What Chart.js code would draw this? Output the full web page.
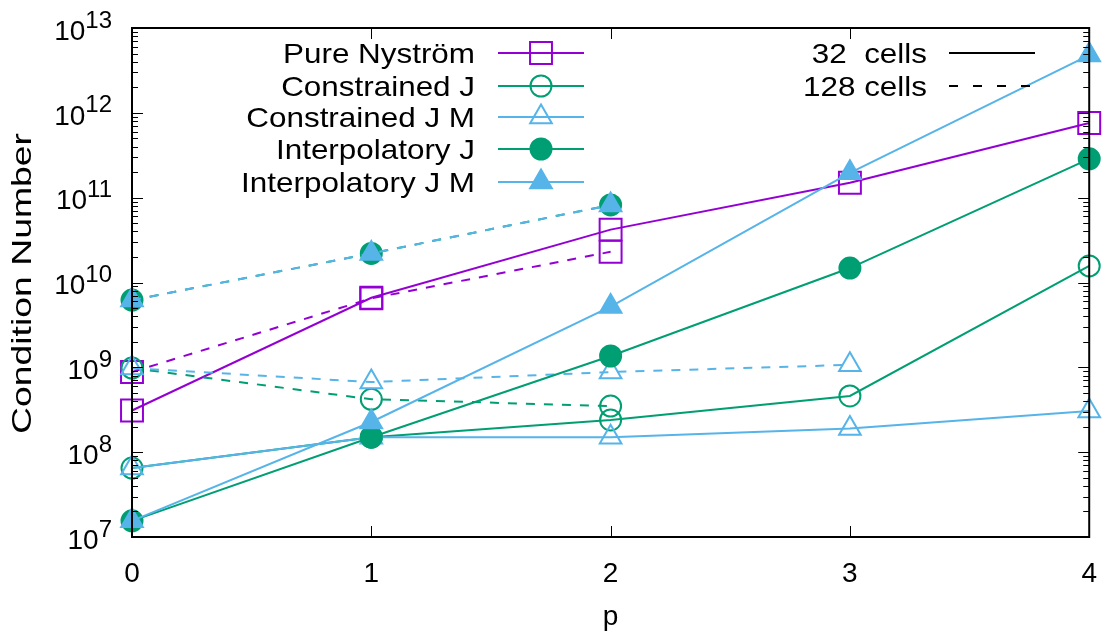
<!DOCTYPE html>
<html>
<head>
<meta charset="utf-8">
<script src="https://cdn.jsdelivr.net/npm/chart.js@4/dist/chart.umd.min.js"></script>
<style>
  html, body { margin: 0; padding: 0; background: #fff; overflow: hidden; }
  canvas { display: block; }
</style>
</head>
<body>
<canvas id="c" width="1109" height="637"></canvas>
<script>
// p values on the x axis
const pValues = [0, 1, 2, 3, 4];
const xTickLabels = ['0', '1', '2', '3', '4'];
const yDecades = [7, 8, 9, 10, 11, 12, 13];

// condition numbers, 32 cells (solid)
const pure32 = [3.1e8, 6.6e9, 4.2e10, 1.5e11, 7.6e11];
const conJ32 = [6.5e7, 1.5e8, 2.4e8, 4.6e8, 1.57e10];
const conJM32 = [6.5e7, 1.5e8, 1.5e8, 1.9e8, 3.06e8];
const intJ32 = [1.55e7, 1.5e8, 1.36e9, 1.48e10, 2.87e11];
const intJM32 = [1.55e7, 2.27e8, 5.2e9, 1.96e11, 4.8e12];

// condition numbers, 128 cells (dashed)
const pure128 = [8.8e8, 6.5e9, 2.3e10];
const conJ128 = [9.8e8, 4.2e8, 3.5e8];
const conJM128 = [9.8e8, 6.7e8, 8.8e8, 1.07e9];
const intJ128 = [6.2e9, 2.2e10, 8.2e10];
const intJM128 = [6.2e9, 2.2e10, 8.2e10];

const seriesNames = ['Pure Nyström', 'Constrained J', 'Constrained J M', 'Interpolatory J', 'Interpolatory J M'];
const cellLabels = ['32  cells', '128 cells'];

const PURPLE = '#9400d3';
const GREEN = '#009e73';
const BLUE = '#56b4e9';
const FONT = '"Liberation Sans", Arial, sans-serif';
const DASH = [9, 9];

const styles = [
  {color: PURPLE, shape: 'rect', r: 15.5, fill: false},
  {color: GREEN, shape: 'circle', r: 10.5, fill: false},
  {color: BLUE, shape: 'triangle', r: 12.5, fill: false},
  {color: GREEN, shape: 'circle', r: 10.5, fill: true},
  {color: BLUE, shape: 'triangle', r: 12.5, fill: true}
];

function pts(vals){
  return vals.map((v, i) => ({x: pValues[i], y: v}));
}

function makeSet(idx, vals, dashed){
  const s = styles[idx];
  return {
    label: seriesNames[idx] + (dashed ? ' (128)' : ''),
    data: pts(vals),
    borderColor: s.color,
    backgroundColor: s.fill ? s.color : 'rgba(0,0,0,0)',
    pointBorderColor: s.color,
    pointBackgroundColor: s.fill ? s.color : 'rgba(0,0,0,0)',
    pointStyle: s.shape,
    pointRadius: s.r,
    pointHoverRadius: s.r,
    pointBorderWidth: 2,
    borderWidth: 2,
    borderDash: dashed ? DASH : [],
    tension: 0,
    fill: false,
    clip: false,
    order: 20 - (idx * 2 + (dashed ? 1 : 0))
  };
}

const datasets = [
  makeSet(0, pure32, false), makeSet(0, pure128, true),
  makeSet(1, conJ32, false), makeSet(1, conJ128, true),
  makeSet(2, conJM32, false), makeSet(2, conJM128, true),
  makeSet(3, intJ32, false), makeSet(3, intJ128, true),
  makeSet(4, intJM32, false), makeSet(4, intJM128, true)
];

// text squeezed/stretched along its run to the width seen in the picture
function stretchText(ctx, txt, x, y, sx){
  ctx.save();
  ctx.translate(x, y);
  ctx.scale(sx, 1);
  ctx.fillText(txt, 0, 0);
  ctx.restore();
}

// frame, inward ticks, y labels with superscripts, y title and the two keys
const decorPlugin = {
  id: 'decor',
  afterDraw(chart){
    const ctx = chart.ctx;
    const a = chart.chartArea;
    const xs = chart.scales.x, ys = chart.scales.y;
    ctx.save();
    ctx.strokeStyle = '#000';
    ctx.lineWidth = 1;
    // y ticks (major + minor) on both sides
    yDecades.forEach(d => {
      for (let m = 1; m <= 9; m++) {
        const v = m * Math.pow(10, d);
        if (v > 1e13 * 1.0001) continue;
        const y = Math.round(ys.getPixelForValue(v)) + 0.5;
        const len = m === 1 ? 11 : 6;
        ctx.beginPath();
        ctx.moveTo(a.left, y); ctx.lineTo(a.left + len, y);
        ctx.moveTo(a.right, y); ctx.lineTo(a.right - len, y);
        ctx.stroke();
      }
    });
    // x ticks bottom and top
    pValues.forEach(p => {
      const x = Math.round(xs.getPixelForValue(p)) + 0.5;
      ctx.beginPath();
      ctx.moveTo(x, a.bottom); ctx.lineTo(x, a.bottom - 11);
      ctx.moveTo(x, a.top); ctx.lineTo(x, a.top + 11);
      ctx.stroke();
    });
    // frame
    ctx.lineWidth = 2;
    ctx.strokeRect(a.left, a.top, a.right - a.left, a.bottom - a.top);

    // y tick labels: 10^k
    ctx.fillStyle = '#000';
    ctx.textBaseline = 'middle';
    ctx.textAlign = 'right';
    yDecades.forEach(d => {
      const y = ys.getPixelForValue(Math.pow(10, d));
      ctx.font = '24px ' + FONT;
      const exp = String(d);
      const ew = ctx.measureText(exp).width;
      const right = a.left - 20;
      ctx.fillText(exp, right, y - 7);
      ctx.font = '28px ' + FONT;
      ctx.fillText('10', right - ew, y + 4);
    });

    // y axis title, rotated
    ctx.font = '28px ' + FONT;
    ctx.textAlign = 'center';
    const title = 'Condition Number';
    const tw = ctx.measureText(title).width;
    ctx.save();
    ctx.translate(23, (a.top + a.bottom) / 2 + 1);
    ctx.rotate(-Math.PI / 2);
    stretchText(ctx, title, 0, 0, 301 / tw);
    ctx.restore();

    // left key: series names
    const rowY = [53, 86, 117, 149, 182];
    ctx.font = '28px ' + FONT;
    ctx.textAlign = 'right';
    const sx = 192 / ctx.measureText(seriesNames[0]).width;
    seriesNames.forEach((name, i) => {
      const y = rowY[i];
      ctx.fillStyle = '#000';
      stretchText(ctx, name, 475, y + 2, sx);
      const s = styles[i];
      ctx.strokeStyle = s.color;
      ctx.lineWidth = 2;
      ctx.setLineDash([]);
      ctx.beginPath();
      ctx.moveTo(498, y); ctx.lineTo(584, y);
      ctx.stroke();
      ctx.fillStyle = s.fill ? s.color : 'rgba(0,0,0,0)';
      Chart.helpers.drawPoint(ctx, {
        pointStyle: s.shape, radius: s.r, borderWidth: 2, rotation: 0
      }, 541, y);
    });
    // right key: cell counts
    cellLabels.forEach((lab, i) => {
      const y = rowY[i];
      ctx.fillStyle = '#000';
      ctx.strokeStyle = '#000';
      ctx.textAlign = 'right';
      stretchText(ctx, lab, 927, y + 2, sx);
      ctx.lineWidth = 2;
      ctx.setLineDash(i === 0 ? [] : [9, 15]);
      ctx.beginPath();
      ctx.moveTo(949, y); ctx.lineTo(1035, y);
      ctx.stroke();
    });
    ctx.restore();
  }
};

new Chart(document.getElementById('c'), {
  type: 'line',
  data: {datasets: datasets},
  options: {
    responsive: false,
    animation: false,
    layout: {padding: {top: 28, right: 13, left: 0, bottom: 0}},
    plugins: {legend: {display: false}, tooltip: {enabled: false}},
    scales: {
      x: {
        type: 'linear',
        min: 0, max: 4,
        grid: {display: false},
        border: {display: false},
        ticks: {
          stepSize: 1,
          color: '#000',
          font: {family: FONT, size: 28},
          padding: 12,
          callback: (v) => xTickLabels[pValues.indexOf(v)] || ''
        },
        title: {display: true, text: 'p', color: '#000', font: {family: FONT, size: 28}, padding: {top: 0, bottom: 3}},
        afterFit: (s) => { s.height = 637 - 537; }
      },
      y: {
        type: 'logarithmic',
        min: 1e7, max: 1e13,
        grid: {display: false},
        border: {display: false},
        ticks: {display: false},
        afterFit: (s) => { s.width = 132; }
      }
    }
  },
  plugins: [decorPlugin]
});
</script>
</body>
</html>
